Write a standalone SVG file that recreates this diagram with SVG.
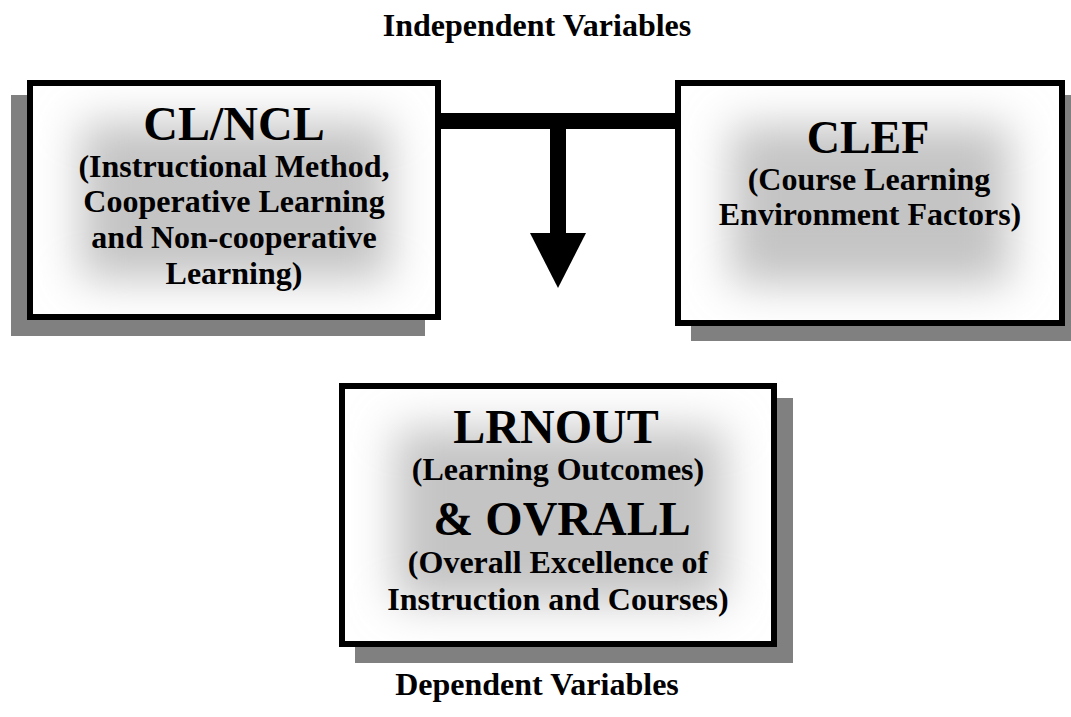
<svg xmlns="http://www.w3.org/2000/svg" width="1071" height="717" viewBox="0 0 1071 717">
  <style>
    .shadow { fill: #808080; }
    .panel { fill: #ffffff; }
    .frame { fill: none; stroke: #000000; stroke-width: 6; }
    .glow { fill: #c4c4c4; filter: url(#soft); }
    text { font-family: "Liberation Serif", "Times New Roman", serif; font-weight: bold; fill: #000000; text-anchor: middle; }
    .big { font-size: 48px; }
    .sub { font-size: 32px; }
    .caption { font-size: 32px; }
  </style>
  <defs>
    <filter id="soft" x="-50%" y="-50%" width="200%" height="200%">
      <feGaussianBlur stdDeviation="22"/>
    </filter>
    <clipPath id="clipLeft"><rect x="30" y="83" width="408" height="234"/></clipPath>
    <clipPath id="clipRight"><rect x="678" y="83" width="384" height="240"/></clipPath>
    <clipPath id="clipBottom"><rect x="342" y="386" width="432" height="258"/></clipPath>
  </defs>

  <rect width="1071" height="717" fill="#ffffff"/>

  <text class="caption" x="537" y="36">Independent Variables</text>
  <text class="caption" x="537" y="695">Dependent Variables</text>

  <!-- Connectors: joining bar and downward arrow -->
  <g id="connectors">
    <rect x="441" y="113" width="234" height="16" fill="#000000"/>
    <rect x="550" y="121" width="16" height="113" fill="#000000"/>
    <polygon points="530,233 586,233 558,288" fill="#000000"/>
  </g>

  <g id="node-clncl">
    <rect class="shadow" x="11" y="95" width="414" height="241"/>
    <rect class="panel" x="30" y="83" width="408" height="234"/>
    <g clip-path="url(#clipLeft)">
      <rect class="glow" x="80" y="122" width="310" height="158"/>
    </g>
    <rect class="frame" x="30" y="83" width="408" height="234"/>
    <text class="big" x="234" y="140">CL/NCL</text>
    <text class="sub" x="234" y="177">(Instructional Method,</text>
    <text class="sub" x="234" y="212">Cooperative Learning</text>
    <text class="sub" x="234" y="248">and Non-cooperative</text>
    <text class="sub" x="234" y="284">Learning)</text>
  </g>

  <g id="node-clef">
    <rect class="shadow" x="691" y="95" width="390" height="246"/>
    <rect class="panel" x="678" y="83" width="384" height="240"/>
    <g clip-path="url(#clipRight)">
      <rect class="glow" x="730" y="125" width="280" height="160"/>
    </g>
    <rect class="frame" x="678" y="83" width="384" height="240"/>
    <text class="big" x="868" y="153" style="font-size:46px">CLEF</text>
    <text class="sub" x="869" y="190">(Course Learning</text>
    <text class="sub" x="870" y="225">Environment Factors)</text>
  </g>

  <g id="node-lrnout">
    <rect class="shadow" x="355" y="398" width="438" height="265"/>
    <rect class="panel" x="342" y="386" width="432" height="258"/>
    <g clip-path="url(#clipBottom)">
      <rect class="glow" x="395" y="428" width="330" height="175"/>
    </g>
    <rect class="frame" x="342" y="386" width="432" height="258"/>
    <text class="big" x="556" y="443">LRNOUT</text>
    <text class="sub" x="558" y="480">(Learning Outcomes)</text>
    <text class="big" x="562" y="535">&amp; OVRALL</text>
    <text class="sub" x="558" y="573">(Overall Excellence of</text>
    <text class="sub" x="558" y="610">Instruction and Courses)</text>
  </g>
</svg>
